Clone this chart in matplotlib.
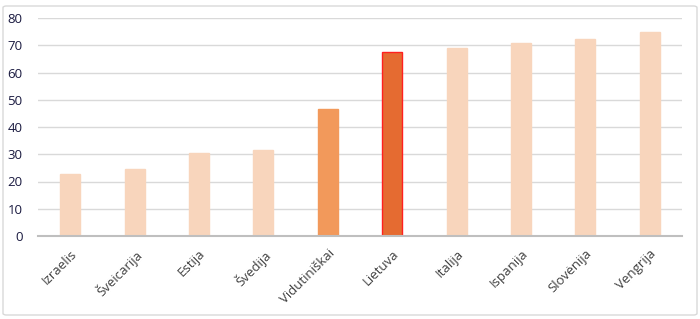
import matplotlib.pyplot as plt
from matplotlib.patches import FancyBboxPatch

countries = ['Izraelis', 'Šveicarija', 'Estija', 'Švedija', 'Vidutiniškai',
             'Lietuva', 'Italija', 'Ispanija', 'Slovėnija', 'Vengrija']
values = [22.6, 24.5, 30.5, 31.6, 46.7, 67.4, 69.0, 70.7, 72.2, 74.7]

light = '#F8D5BC'
colors = [light] * 10
colors[4] = '#F2995B'
colors[5] = '#E56B31'
edges = list(colors)
edges[5] = '#FF2020'

plt.rcParams['font.family'] = ['Open Sans', 'DejaVu Sans']

fig = plt.figure(figsize=(7, 3.19), dpi=100)
ax = fig.add_axes([38 / 700, 1 - 236 / 319, 644 / 700, 218 / 319])

x = range(len(countries))
ax.bar(x, values, width=0.31, color=colors, edgecolor=edges, linewidth=1.0, zorder=3)

ax.set_xlim(-0.5, len(countries) - 0.5)
ax.set_ylim(0, 80)
ax.set_yticks(range(0, 81, 10))
ax.grid(axis='y', color='#D9D9D9', linewidth=1.0, zorder=0)
for s in ['top', 'right', 'left']:
    ax.spines[s].set_visible(False)
ax.spines['bottom'].set_color('#BFBFBF')
ax.spines['bottom'].set_linewidth(1.5)
ax.spines['bottom'].set_zorder(4)
ax.tick_params(axis='both', length=0)
ax.tick_params(axis='y', labelsize=9.5, labelcolor='#1A1A40', pad=11)
ax.set_xticks(list(x))
ax.set_xticklabels(countries, rotation=45, ha='right', rotation_mode='anchor',
                   fontsize=9.5, color='#404040')
ax.tick_params(axis='x', pad=8)

border = FancyBboxPatch((3 / 700, 4 / 319), 694 / 700, 309 / 319,
                        boxstyle='round,pad=0,rounding_size=0.005',
                        transform=fig.transFigure, fill=False,
                        edgecolor='#D9D9D9', linewidth=1.0)
fig.patches.append(border)

fig.savefig('out.png', dpi=100)
